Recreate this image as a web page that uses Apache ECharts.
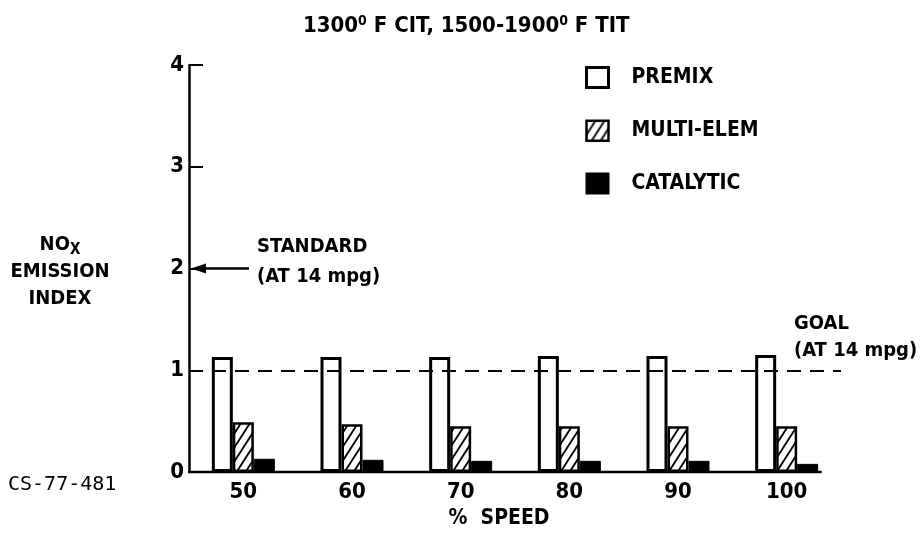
<!DOCTYPE html>
<html><head><meta charset="utf-8">
<script src="https://cdn.jsdelivr.net/npm/echarts@6/dist/echarts.min.js"></script>
<style>html,body{margin:0;padding:0;background:#fff}#c{width:924px;height:533px}</style>
</head><body><div id="c"></div>
<script>
// ---- data ----
const categories = ['50', '60', '70', '80', '90', '100'];
const premix = [1.13, 1.13, 1.13, 1.14, 1.14, 1.15];
const multiElem = [0.49, 0.47, 0.45, 0.45, 0.45, 0.45];
const catalytic = [0.13, 0.12, 0.11, 0.11, 0.11, 0.08];
const seriesNames = ['PREMIX', 'MULTI-ELEM', 'CATALYTIC'];
const yMin = 0, yMax = 4, yStep = 1;
const goalValue = 1;
const standardValue = 2;

const FONT = "'DejaVu Sans Condensed', 'DejaVu Sans', sans-serif";
const W = 'bold';

function hatchCanvas() {
  const w = 9, h = 14;
  const c = document.createElement('canvas');
  c.width = w; c.height = h;
  const g = c.getContext('2d');
  g.fillStyle = '#fff'; g.fillRect(0, 0, w, h);
  g.strokeStyle = '#000'; g.lineWidth = 1.8;
  g.beginPath();
  for (let k = -1; k <= 1; k++) {
    g.moveTo(k * w - 1, h + 1.6);
    g.lineTo(k * w + w + 1, -1.6);
  }
  g.stroke();
  return c;
}

const chart = echarts.init(document.getElementById('c'), null, { renderer: 'canvas' });

const option = {
  animation: false,
  backgroundColor: '#fff',
  textStyle: { fontFamily: FONT, color: '#000' },
  title: {
    text: '1300{s|0} F CIT, 1500-1900{s|0} F TIT',
    left: 298, top: 9,
    textStyle: {
      fontFamily: FONT, fontSize: 22, fontWeight: W, color: '#000',
      rich: { s: { fontFamily: FONT, fontSize: 14, fontWeight: W, verticalAlign: 'top', padding: [0, 0, 10, 0], color: '#000' } }
    }
  },
  legend: {
    data: [
      { name: seriesNames[0], itemStyle: { borderWidth: 3 } },
      { name: seriesNames[1], itemStyle: { borderWidth: 2.5 } },
      { name: seriesNames[2] }
    ],
    orient: 'vertical',
    left: 585, top: 66,
    itemWidth: 22, itemHeight: 20, itemGap: 30.5,
    icon: 'rect',
    padding: 0,
    textStyle: { fontFamily: FONT, fontSize: 21, fontWeight: W, color: '#000', lineHeight: 20, padding: [2, 0, 0, 18] }
  },
  grid: { left: 189, right: 83, top: 65, bottom: 61, containLabel: false, outerBoundsMode: 'none' },
  xAxis: {
    type: 'category',
    data: categories,
    axisLine: { show: false },
    axisTick: { show: false },
    axisLabel: { fontFamily: FONT, fontSize: 22, fontWeight: W, color: '#000', margin: 9 },
    name: '%  SPEED',
    nameLocation: 'middle',
    nameGap: 36,
    nameTextStyle: { fontFamily: FONT, fontSize: 21, fontWeight: W, color: '#000', padding: [0, 32, 0, 0] }
  },
  yAxis: {
    type: 'value',
    min: yMin, max: yMax, interval: yStep,
    axisLine: { show: true, lineStyle: { color: '#000', width: 2.5 } },
    axisTick: { show: true, inside: true, length: 14, lineStyle: { color: '#000', width: 2 } },
    axisLabel: { fontFamily: FONT, fontSize: 22, fontWeight: W, color: '#000', margin: 5 },
    splitLine: { show: false },
    name: 'NO{x|X}\nEMISSION\nINDEX',
    nameLocation: 'middle',
    nameRotate: 0,
    nameGap: 129,
    nameTextStyle: {
      fontFamily: FONT, fontSize: 20, fontWeight: W, color: '#000', lineHeight: 27, align: 'center',
      padding: [6, 0, 0, 0],
      rich: { x: { fontFamily: FONT, fontSize: 15, fontWeight: W, verticalAlign: 'bottom', padding: [12, 0, 0, 0], lineHeight: 27 } }
    }
  },
  series: [
    {
      name: seriesNames[0], type: 'bar', data: premix,
      barWidth: 21, barGap: '0%',
      itemStyle: { color: '#fff', borderColor: '#000', borderWidth: 3 },
      markLine: {
        silent: true, symbol: 'none',
        lineStyle: { color: '#000', width: 2, type: [14, 9] },
        label: { show: false },
        data: [{ yAxis: goalValue }]
      }
    },
    {
      name: seriesNames[1], type: 'bar', data: multiElem,
      barWidth: 21, barGap: '0%',
      itemStyle: { color: { image: hatchCanvas(), repeat: 'repeat' }, borderColor: '#000', borderWidth: 2.5 }
    },
    {
      name: seriesNames[2], type: 'bar', data: catalytic,
      barWidth: 21, barGap: '0%',
      itemStyle: { color: '#000', borderColor: '#000', borderWidth: 1 }
    }
  ]
};
chart.setOption(option);

// Annotations anchored to the axes' scales
const yStd = chart.convertToPixel({ yAxisIndex: 0 }, standardValue);
const yGoal = chart.convertToPixel({ yAxisIndex: 0 }, goalValue);
const yZero = chart.convertToPixel({ yAxisIndex: 0 }, yMin);
const cFirst = chart.convertToPixel({ xAxisIndex: 0 }, categories[0]);
const cLast = chart.convertToPixel({ xAxisIndex: 0 }, categories[categories.length - 1]);
const band = chart.convertToPixel({ xAxisIndex: 0 }, categories[1]) - cFirst;
const x0 = cFirst - band / 2;
const xEnd = x0 + band * categories.length;
chart.setOption({
  graphic: [
    {
      type: 'text', left: 8, top: 475,
      style: { text: 'CS-77-481', font: "20px 'DejaVu Sans Mono', monospace", fill: '#000' }
    },
    // x baseline (ends just past the last bar group, as in the original)
    { type: 'line', z: 10, shape: { x1: x0 - 1, y1: yZero, x2: cLast + 35, y2: yZero }, style: { stroke: '#000', lineWidth: 2.5 } },
    { type: 'line', shape: { x1: x0 + 12, y1: yStd, x2: x0 + 60, y2: yStd }, style: { stroke: '#000', lineWidth: 2.5 } },
    { type: 'polygon', shape: { points: [[x0 + 2, yStd], [x0 + 17, yStd - 5], [x0 + 17, yStd + 5]] }, style: { fill: '#000' } },
    {
      type: 'text', x: x0 + 68, y: yStd - 7,
      style: { text: 'STANDARD\n(AT 14 mpg)', font: "bold 20px " + FONT, fill: '#000', lineHeight: 30, verticalAlign: 'middle', align: 'left' }
    },
    {
      type: 'text', x: xEnd - 47, y: yGoal - 33,
      style: { text: 'GOAL\n(AT 14 mpg)', font: "bold 20px " + FONT, fill: '#000', lineHeight: 27, verticalAlign: 'middle', align: 'left' }
    }
  ]
});
</script>
</body></html>
